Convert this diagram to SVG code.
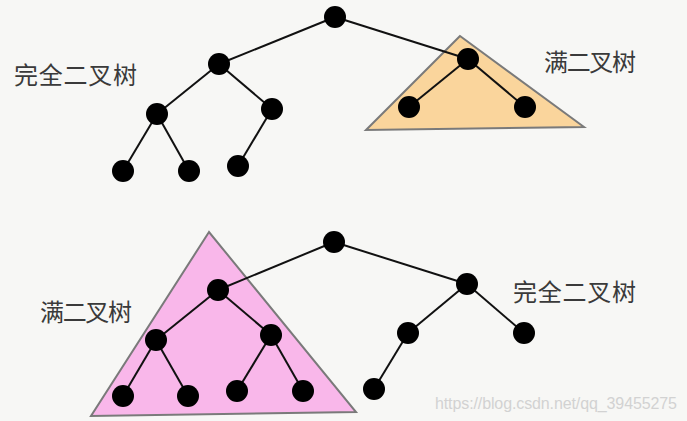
<svg xmlns="http://www.w3.org/2000/svg" width="687" height="421" viewBox="0 0 687 421">
<style>
.bg{fill:#f7f7f5}
.tri{stroke:#7a7a7a;stroke-width:2;stroke-linejoin:miter}
.edge{stroke:#111;stroke-width:2;fill:none}
.node{fill:#000}
.lbl{font-family:"Noto Sans CJK SC","Noto Sans",sans-serif;font-size:24px;fill:#3a3a3a}
.wm{font-family:"Liberation Sans",Arial,sans-serif;font-size:16px;fill:#d2d2d2}
</style>
<rect class="bg" x="0" y="0" width="687" height="421"/>
<polygon class="tri" fill="#fad59c" points="460,36 366,130 584,127"/>
<polygon class="tri" fill="#f9b7ea" points="209,232 91,416 356,412"/>
<g id="connectors">
<line class="edge" x1="335" y1="17" x2="219" y2="64"/>
<line class="edge" x1="335" y1="17" x2="468" y2="59"/>
<line class="edge" x1="219" y1="64" x2="157" y2="114"/>
<line class="edge" x1="219" y1="64" x2="272" y2="109"/>
<line class="edge" x1="157" y1="114" x2="123" y2="171"/>
<line class="edge" x1="157" y1="114" x2="189" y2="171"/>
<line class="edge" x1="272" y1="109" x2="238" y2="166"/>
<line class="edge" x1="468" y1="59" x2="409" y2="107"/>
<line class="edge" x1="468" y1="59" x2="525" y2="107"/>
<line class="edge" x1="334" y1="242" x2="218" y2="290"/>
<line class="edge" x1="334" y1="242" x2="467" y2="284"/>
<line class="edge" x1="218" y1="290" x2="156" y2="340"/>
<line class="edge" x1="218" y1="290" x2="271" y2="335"/>
<line class="edge" x1="156" y1="340" x2="123" y2="396"/>
<line class="edge" x1="156" y1="340" x2="188" y2="396"/>
<line class="edge" x1="271" y1="335" x2="237" y2="391"/>
<line class="edge" x1="271" y1="335" x2="303" y2="391"/>
<line class="edge" x1="467" y1="284" x2="408" y2="333"/>
<line class="edge" x1="467" y1="284" x2="524" y2="333"/>
<line class="edge" x1="408" y1="333" x2="374" y2="389"/>
</g>
<g id="t1-root"><circle class="node" cx="335" cy="17" r="11"/></g>
<g id="t1-a"><circle class="node" cx="219" cy="64" r="11"/></g>
<g id="t1-b"><circle class="node" cx="157" cy="114" r="11"/></g>
<g id="t1-c"><circle class="node" cx="272" cy="109" r="11"/></g>
<g id="t1-d"><circle class="node" cx="123" cy="171" r="11"/></g>
<g id="t1-e"><circle class="node" cx="189" cy="171" r="11"/></g>
<g id="t1-f"><circle class="node" cx="238" cy="166" r="11"/></g>
<g id="t1-g"><circle class="node" cx="468" cy="59" r="11"/></g>
<g id="t1-h"><circle class="node" cx="409" cy="107" r="11"/></g>
<g id="t1-i"><circle class="node" cx="525" cy="107" r="11"/></g>
<g id="t2-root"><circle class="node" cx="334" cy="242" r="11"/></g>
<g id="t2-a"><circle class="node" cx="218" cy="290" r="11"/></g>
<g id="t2-b"><circle class="node" cx="156" cy="340" r="11"/></g>
<g id="t2-c"><circle class="node" cx="271" cy="335" r="11"/></g>
<g id="t2-d"><circle class="node" cx="123" cy="396" r="11"/></g>
<g id="t2-e"><circle class="node" cx="188" cy="396" r="11"/></g>
<g id="t2-f"><circle class="node" cx="237" cy="391" r="11"/></g>
<g id="t2-g"><circle class="node" cx="303" cy="391" r="11"/></g>
<g id="t2-h"><circle class="node" cx="467" cy="284" r="11"/></g>
<g id="t2-i"><circle class="node" cx="408" cy="333" r="11"/></g>
<g id="t2-j"><circle class="node" cx="524" cy="333" r="11"/></g>
<g id="t2-k"><circle class="node" cx="374" cy="389" r="11"/></g>
<g id="labels">
<text class="lbl" x="14" y="84" textLength="123">完全二叉树</text>
<text class="lbl" x="544" y="71" textLength="92">满二叉树</text>
<text class="lbl" x="40" y="321" textLength="92">满二叉树</text>
<text class="lbl" x="513" y="301" textLength="123">完全二叉树</text>
<text class="wm" x="435" y="409" textLength="242">https://blog.csdn.net/qq_39455275</text>
</g>
</svg>
